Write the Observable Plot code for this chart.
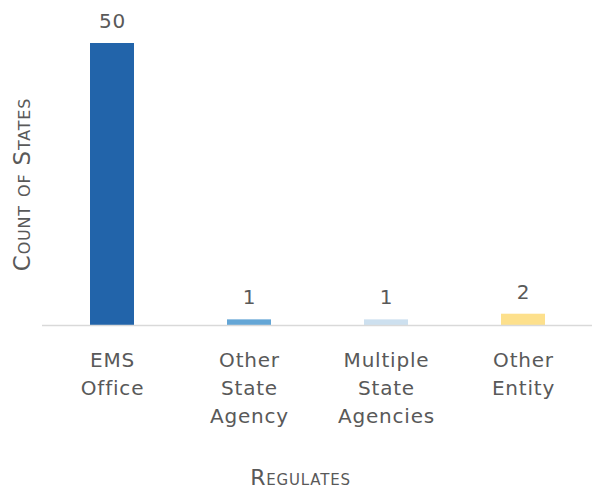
<!DOCTYPE html>
<html>
<head>
<meta charset="utf-8">
<script src="https://cdn.jsdelivr.net/npm/d3@7"></script>
<script src="https://cdn.jsdelivr.net/npm/@observablehq/plot@0.6"></script>
<style>
  html, body { margin: 0; padding: 0; background: #fff; }
  #chart svg text { letter-spacing: 0.8px; }
</style>
</head>
<body>
<div id="chart"></div>
<script>
const categories = ["EMS\nOffice", "Other\nState\nAgency", "Multiple\nState\nAgencies", "Other\nEntity"];
const counts = [50, 1, 1, 2];
const colors = ["#2264aa", "#64a6d6", "#cde0ef", "#fde08c"];
const xTitle = "Regulates";
const yTitle = "Count of States";

const data = categories.map((c, i) => ({cat: c, value: counts[i], color: colors[i]}));
const font = "DejaVu Sans";
const textColor = "#595959";

const chart = Plot.plot({
  width: 593,
  height: 491,
  marginTop: 43,
  marginBottom: 166,
  marginLeft: 42,
  marginRight: 1,
  style: {fontFamily: font, fontSize: "20px", color: textColor, background: "#fff"},
  x: {domain: categories, paddingInner: 0.68, paddingOuter: 0.34, label: null},
  y: {domain: [0, 50], label: null},
  marks: [
    Plot.barY(data, {x: "cat", y: "value", fill: "color"}),
    Plot.ruleY([0], {stroke: "#d9d9d9", strokeWidth: 1.5}),
    Plot.text(data, {x: "cat", y: "value", text: d => String(d.value), dy: -22, fill: textColor, fontSize: 20}),
    Plot.axisX({tickSize: 0, tickPadding: 22, lineHeight: 1.4, fontSize: 20, fill: textColor, label: null}),
    Plot.axisY({ticks: [], label: null}),
    Plot.text([yTitle], {frameAnchor: "left", textAnchor: "middle", dx: -20, rotate: -90, fontSize: 23, fontVariant: "small-caps", fill: textColor}),
    Plot.text([xTitle], {frameAnchor: "bottom", dx: -17, dy: 159, fontSize: 22, fontVariant: "small-caps", fill: textColor})
  ]
});
document.getElementById("chart").appendChild(chart);
</script>
</body>
</html>
